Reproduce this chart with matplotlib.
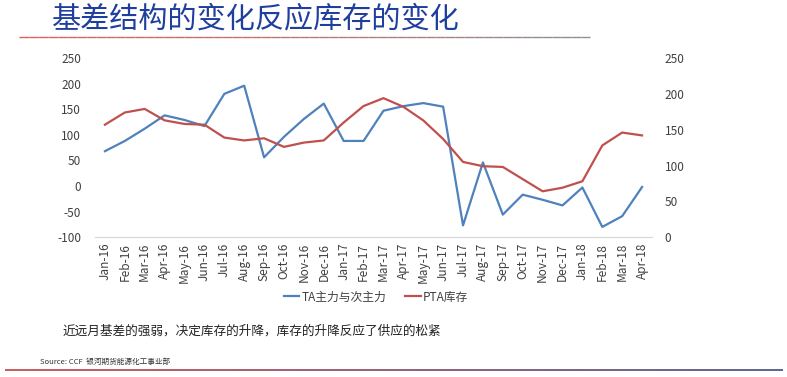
import numpy as np
import matplotlib
matplotlib.use("Agg")
import matplotlib.pyplot as plt
from matplotlib.collections import LineCollection
from matplotlib.colors import to_rgb

plt.rcParams['font.family'] = ['Noto Sans CJK SC', 'DejaVu Sans']
plt.rcParams['axes.unicode_minus'] = False

months = ["Jan-16", "Feb-16", "Mar-16", "Apr-16", "May-16", "Jun-16", "Jul-16",
          "Aug-16", "Sep-16", "Oct-16", "Nov-16", "Dec-16", "Jan-17", "Feb-17",
          "Mar-17", "Apr-17", "May-17", "Jun-17", "Jul-17", "Aug-17", "Sep-17",
          "Oct-17", "Nov-17", "Dec-17", "Jan-18", "Feb-18", "Mar-18", "Apr-18"]
# 近远月基差 (左轴)
spread = [68, 88, 112, 138, 129, 117, 180, 196, 56, 96, 131, 161, 88, 88,
          147, 156, 162, 155, -77, 46, -56, -17, -27, -38, -3, -80, -59, -2]
# PTA库存 (右轴)
stock = [157, 174, 179, 163, 158, 157, 139, 135, 138, 126, 132, 135, 160, 183,
         194, 182, 163, 137, 105, 99, 98, 81, 64, 69, 78, 128, 146, 142]
left_ticks = [-100, -50, 0, 50, 100, 150, 200, 250]
right_ticks = [0, 50, 100, 150, 200, 250]

blue = "#4F81BD"
red = "#C0504D"

fig = plt.figure(figsize=(7.87, 3.77), dpi=100)
ax = fig.add_axes([0.1207, 0.371, 0.7078, 0.475])
ax2 = ax.twinx()

x = np.arange(len(months))
ax.plot(x, spread, color=blue, lw=1.6, label="TA主力与次主力")
ax2.plot(x, stock, color=red, lw=1.6, label="PTA库存")

ax.set_xlim(-0.5, len(months) - 0.5)
ax.set_ylim(-100, 250)
ax2.set_ylim(0, 250)
ax.set_yticks(left_ticks)
ax2.set_yticks(right_ticks)
ax.set_xticks(x)
ax.set_xticklabels(months, rotation=90, fontsize=8.5, color="#404040")
ax.tick_params(axis="y", labelsize=8.5, colors="#404040", length=0, pad=10)
ax2.tick_params(axis="y", labelsize=8.5, colors="#404040", length=0, pad=9)
ax.tick_params(axis="x", length=0, pad=4)

for a in (ax, ax2):
    for s in ("top", "left", "right"):
        a.spines[s].set_visible(False)
    a.spines["bottom"].set_color("#D9D9D9")

h1, l1 = ax.get_legend_handles_labels()
h2, l2 = ax2.get_legend_handles_labels()
fig.legend(h1 + h2, l1 + l2, loc="center", bbox_to_anchor=(0.478, 0.212),
           ncol=2, frameon=False, fontsize=8.5, handlelength=1.3,
           handletextpad=0.2, columnspacing=1.6, labelcolor="#404040")

# 标题
fig.text(0.066, 1 - 27.5 / 377, "基差结构的变化反应库存的变化", fontsize=21,
         color="#1F3F9F", va="baseline", ha="left")


def grad_line(x0, x1, y, c0, c1, lw):
    xs = np.linspace(x0, x1, 60)
    segs = [[(xs[i], y), (xs[i + 1], y)] for i in range(len(xs) - 1)]
    a0, a1 = np.array(to_rgb(c0)), np.array(to_rgb(c1))
    cols = [a0 + (a1 - a0) * t for t in np.linspace(0, 1, len(segs))]
    lc = LineCollection(segs, colors=cols, linewidths=lw,
                        transform=fig.transFigure)
    fig.add_artist(lc)


grad_line(0.024, 0.75, 1 - 37 / 377, "#E06060", "#909090", 1.0)
grad_line(0.006, 0.995, 1 - 370 / 377, "#C04040", "#404a80", 1.2)

fig.text(0.079, 1 - 331 / 377, "近远月基差的强弱，决定库存的升降，库存的升降反应了供应的松紧",
         fontsize=9.1, color="#222222", va="center", ha="left")
fig.text(0.051, 1 - 362 / 377, "Source: CCF  银河期货能源化工事业部",
         fontsize=5.5, color="#333333", va="center", ha="left")

fig.savefig("out.png", dpi=100, facecolor="white")
